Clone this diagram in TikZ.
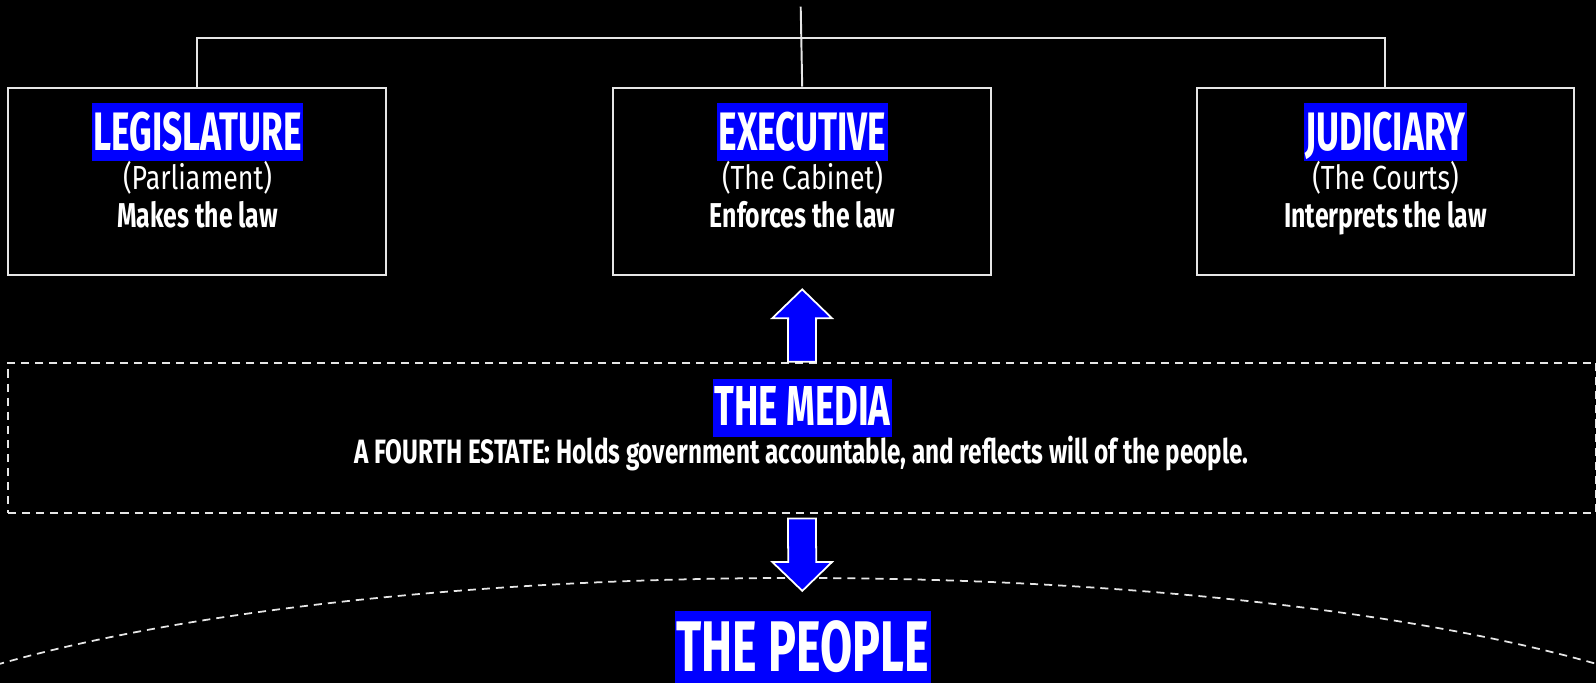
\documentclass[tikz,border=0pt]{standalone}
\usepackage{fontspec}
\usetikzlibrary{calc}
\newfontfamily\headfont[FakeStretch=0.65]{Fira Sans}
\newfontfamily\bodyfont[FakeStretch=0.72]{Fira Sans}
\newfontfamily\notefont[FakeStretch=0.8]{Fira Sans}
\definecolor{hlblue}{RGB}{0,0,255}
\definecolor{rule}{RGB}{230,230,230}
\tikzset{
	branch/.style={draw=rule, line width=0.55pt, minimum width=107.4pt, minimum height=53.4pt, inner sep=0pt},
	tag/.style={fill=hlblue, text=white, inner xsep=0.5pt, inner ysep=0pt, anchor=base,
		font=\headfont\bfseries\fontsize{15.4}{18}\selectfont, text height=13.5pt, text depth=2.85pt},
	note/.style={text=white, anchor=base, inner sep=0pt, font=\notefont\fontsize{9.5}{11}\selectfont},
	duty/.style={note, font=\bodyfont\bfseries\fontsize{9.8}{12}\selectfont},
	dashline/.style={draw=rule, line width=0.5pt, dash pattern=on 2.3pt off 1.7pt},
	blockarrow/.style={fill=hlblue, draw=white, line width=0.5pt, line join=miter}
}
% vertical block arrow from tail (#1) to tip (#2)
\def\blockarrow(#1)(#2){\draw[blockarrow] ($(#1)+(-14,0)$) -- ($(#2)!8.2pt!(#1)+(-14,0)$) -- ($(#2)!8.2pt!(#1)+(-29.8,0)$) -- (#2) -- ($(#2)!8.2pt!(#1)+(29.8,0)$) -- ($(#2)!8.2pt!(#1)+(14,0)$) -- ($(#1)+(14,0)$) -- cycle;}

\begin{document}
\begin{tikzpicture}[x=0.01cm,y=-0.01cm]
		%%%%% START %%%%%
		\useasboundingbox (0,0) rectangle (1596,683);
		\fill[black] (0,0) rectangle (1596,683);
		\clip (0,0) rectangle (1596,683);
		
		% the three branches
		\node[branch] (leg) at (197.2,181.5) {};
		\node[branch] (exec) at (802.2,181.5) {};
		\node[branch] (jud) at (1385.4,181.5) {};
		
		\node[tag] (legT) at (197.5,150.7) {LEGISLATURE};
		\node[note] (legS) at (197.5,189.3) {(Parliament)};
		\node[duty] (legD) at (197.5,227.7) {Makes the law};
		
		\node[tag] (execT) at (802.5,150.7) {EXECUTIVE};
		\node[note] (execS) at (802.5,189.3) {(The Cabinet)};
		\node[duty] (execD) at (802.5,227.7) {Enforces the law};
		
		\node[tag] (judT) at (1385.5,150.7) {JUDICIARY};
		\node[note] (judS) at (1385.5,189.3) {(The Courts)};
		\node[duty] (judD) at (1385.5,227.7) {Interprets the law};
		
		\coordinate (top) at (800.7,6.7);
		\coordinate (bus) at (802,37.7);
		\draw[rule, line width=0.55pt] (top) -- (exec.north);
		\draw[rule, line width=0.55pt] (leg.north) |- (bus) -| (jud.north);
		
		% the media
		\node[dashline, minimum width=451.6pt, minimum height=42.85pt, inner sep=0pt] (media) at (802,438) {};
		\node[tag, font=\headfont\bfseries\fontsize{16}{19}\selectfont, text height=13.3pt, text depth=3pt] (mediaT) at (802.5,426) {THE MEDIA};
		\node[duty, font=\bodyfont\bfseries\fontsize{9.6}{12}\selectfont] (mediaD) at (801.5,464) {A FOURTH ESTATE: Holds government accountable, and reflects will of the people.};
		
		% the people
		\draw[dashline] (798,794) ellipse [x radius=1000, y radius=216];
		\node[tag, font=\headfont\bfseries\fontsize{20.4}{24}\selectfont, text height=17.3pt, text depth=4pt] (people) at (802.9,671.7) {THE PEOPLE};
		
		\coordinate (upTip) at ($(exec.south)+(0,13)$);
		\coordinate (downTail) at ($(media.south)+(0,4.4)$);
		\coordinate (downTip) at (802.3,590.9);
		\blockarrow(media.north)(upTip)
		\blockarrow(downTail)(downTip)
		
		%%%%% END %%%%%
\end{tikzpicture}
\end{document}
